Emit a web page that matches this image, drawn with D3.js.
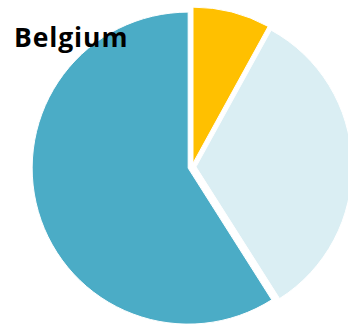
<!DOCTYPE html>
<html>
<head>
<meta charset="utf-8">
<script src="https://cdn.jsdelivr.net/npm/d3@7"></script>
<style>
  html, body { margin: 0; padding: 0; background: #fff; }
  svg { display: block; }
</style>
</head>
<body>
<svg id="chart" width="348" height="324"></svg>
<script>
// Share of each category, in percent
const categories = ["Category A", "Category B", "Category C"];
const values = [8, 33, 59];
const colors = ["#FFC000", "#DAEEF3", "#4BACC6"];
const title = "Belgium";

const width = 348, height = 324;
const cx = 192, cy = 167, radius = 156, explode = 4;

const svg = d3.select("#chart");

const pie = d3.pie().sort(null).value(d => d.value);
const arc = d3.arc().innerRadius(0).outerRadius(radius);

const data = categories.map((c, i) => ({ name: c, value: values[i], color: colors[i] }));

const g = svg.append("g").attr("transform", `translate(${cx},${cy})`);

g.selectAll("path")
  .data(pie(data))
  .join("path")
  .attr("d", arc)
  .attr("fill", d => d.data.color)
  .attr("stroke", "#fff")
  .attr("stroke-width", 1)
  .attr("transform", d => {
    const mid = (d.startAngle + d.endAngle) / 2;
    return `translate(${Math.sin(mid) * explode},${-Math.cos(mid) * explode})`;
  });

svg.append("text")
  .attr("x", 14)
  .attr("y", 47)
  .attr("font-family", "'Open Sans', 'Noto Sans', sans-serif")
  .attr("font-weight", "bold")
  .attr("font-size", 26.5)
  .attr("letter-spacing", 0.9)
  .attr("fill", "#000")
  .text(title);
</script>
</body>
</html>
